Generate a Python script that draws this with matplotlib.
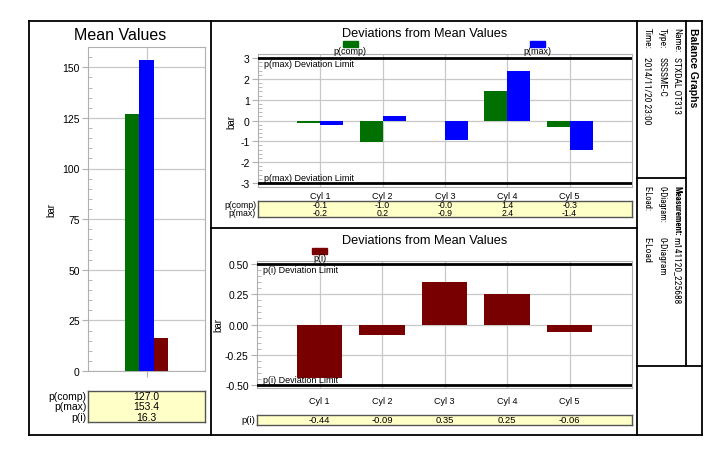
import matplotlib
matplotlib.use('Agg')
import matplotlib.pyplot as plt
from matplotlib.ticker import MultipleLocator, FormatStrFormatter
from matplotlib.patches import Rectangle
from matplotlib.lines import Line2D

plt.rcParams['font.family'] = ['Liberation Sans', 'DejaVu Sans']

# --------- dados ---------
series = ['p(comp)', 'p(max)', 'p(i)']
mean_values = [127.0, 153.4, 16.3]

cylinders = ['Cyl 1', 'Cyl 2', 'Cyl 3', 'Cyl 4', 'Cyl 5']
dev_comp = [-0.1, -1.02, -0.04, 1.44, -0.33]
dev_max = [-0.24, 0.22, -0.92, 2.37, -1.44]
dev_pi = [-0.44, -0.09, 0.35, 0.25, -0.06]
limit_max = 3.0
limit_pi = 0.5

info_labels = ['Name:', 'Type:', 'Time:']
info_values = ['STXDAL OT313', 'SSSSME-C', '2014/11/20 23:00']
meas_labels = ['Measurement:', '0-Diagram:', 'E-Load:']
meas_values = ['m141120_225688', '0-Diagram', 'E-Load']

GREEN = '#007000'
BLUE = '#0000FF'
RED = '#780000'
YELLOW = '#FFFFC8'
GRID = '#C8C8C8'
SPINE = '#B0B0B0'
colors = [GREEN, BLUE, RED]
NARROW = ['Roboto Condensed', 'Liberation Sans Narrow', 'Liberation Sans', 'DejaVu Sans']

W, H = 720, 460


def box(x0, y0, x1, y1):
    return [x0 / W, 1 - y1 / H, (x1 - x0) / W, (y1 - y0) / H]


def fx(x):
    return x / W


def fy(y):
    return 1 - y / H


def line(x0, y0, x1, y1, lw=1.3):
    fig.add_artist(Line2D([fx(x0), fx(x1)], [fy(y0), fy(y1)], color='black', lw=lw))


def style_axes(ax, major, minor, fmt):
    for s in ax.spines.values():
        s.set_color(SPINE)
    ax.set_facecolor('white')
    ax.yaxis.set_major_locator(MultipleLocator(major))
    ax.yaxis.set_minor_locator(MultipleLocator(minor))
    ax.yaxis.set_major_formatter(FormatStrFormatter(fmt))
    ax.tick_params(axis='y', which='major', length=4, color=SPINE, labelsize=7.5, pad=2)
    ax.tick_params(axis='y', which='minor', length=3, direction='in', color=SPINE)
    ax.grid(True, which='major', color=GRID, lw=0.9)
    ax.set_axisbelow(True)
    ax.set_ylabel('bar', fontsize=7)


def table_axes(rect, xlim):
    t = fig.add_axes(rect)
    t.set_facecolor(YELLOW)
    t.set_xlim(*xlim)
    t.set_ylim(0, 1)
    t.set_xticks([])
    t.set_yticks([])
    for s in t.spines.values():
        s.set_color('#555555')
        s.set_linewidth(1.0)
    return t


fig = plt.figure(figsize=(7.2, 4.6), dpi=100)

# --------- painel esquerdo: valores médios ---------
ax = fig.add_axes(box(88, 48, 205, 372))
width = 0.12
for i, (v, c) in enumerate(zip(mean_values, colors)):
    ax.bar((i - 1) * width, v, width=width, color=c, zorder=3)
ax.set_xlim(-0.5, 0.5)
ax.set_ylim(0, 160)
ax.set_xticks([0])
ax.set_xticklabels([])
ax.tick_params(axis='x', length=4, color=SPINE)
style_axes(ax, 25, 5, '%d')
ax.yaxis.labelpad = 4
fig.text(fx(120), fy(35), 'Mean Values', ha='center', va='center', fontsize=11.5)

t = table_axes(box(88, 392, 205, 423), (0, 1))
for k, (name, v) in enumerate(zip(series, mean_values)):
    yy = 1 - (k + 0.5) / 3
    t.text(0.5, yy, f'{v:.1f}', ha='center', va='center', fontsize=7.5)
    t.text(-0.015, yy, name, ha='right', va='center', fontsize=7.5)

# --------- painel do meio (topo): p(comp) e p(max) ---------
x = range(1, len(cylinders) + 1)
ax2 = fig.add_axes(box(258, 55, 632, 188))
bw = 0.37
ax2.bar([i - bw / 2 for i in x], dev_comp, width=bw, color=GREEN, zorder=3)
ax2.bar([i + bw / 2 for i in x], dev_max, width=bw, color=BLUE, zorder=3)
ax2.set_xlim(0, len(cylinders) + 1)
ax2.set_ylim(-3.2, 3.2)
ax2.set_xticks(list(x))
ax2.set_xticklabels(cylinders)
ax2.tick_params(axis='x', length=0, labelsize=6.5, pad=3)
style_axes(ax2, 1, 0.2, '%d')
ax2.yaxis.labelpad = 3
for lim in (limit_max, -limit_max):
    ax2.axhline(lim, color='black', lw=2, zorder=4)
ax2.text(0.1, limit_max - 0.05, 'p(max) Deviation Limit', ha='left', va='top', fontsize=6.5)
ax2.text(0.1, -limit_max + 0.05, 'p(max) Deviation Limit', ha='left', va='bottom', fontsize=6.5)
fig.text(fx(425), fy(34), 'Deviations from Mean Values', ha='center', va='center', fontsize=9.2)

for xc, c, name in [(350, GREEN, series[0]), (537, BLUE, series[1])]:
    fig.add_artist(Rectangle((fx(xc - 7.5), fy(47.5)), 15 / W, 5.5 / H, color=c,
                             transform=fig.transFigure))
    fig.text(fx(xc), fy(52), name, ha='center', va='center', fontsize=6.5)

t2 = table_axes(box(258, 202, 632, 218), (0, len(cylinders) + 1))
for i, vc, vm in zip(x, dev_comp, dev_max):
    t2.text(i, 0.75, f'{vc:.1f}', ha='center', va='center', fontsize=6.3)
    t2.text(i, 0.27, f'{vm:.1f}', ha='center', va='center', fontsize=6.3)
t2.text(-0.03, 0.75, series[0], ha='right', va='center', fontsize=6.3)
t2.text(-0.03, 0.27, series[1], ha='right', va='center', fontsize=6.3)

# --------- painel do meio (baixo): p(i) ---------
ax3 = fig.add_axes(box(257, 262, 632, 389))
ax3.bar(list(x), dev_pi, width=0.73, color=RED, zorder=3)
ax3.set_xlim(0, len(cylinders) + 1)
ax3.set_ylim(-0.525, 0.525)
ax3.set_xticks(list(x))
ax3.set_xticklabels(cylinders)
ax3.tick_params(axis='x', length=0, labelsize=6.5, pad=6)
style_axes(ax3, 0.25, 0.05, '%.2f')
ax3.yaxis.labelpad = 1
for lim in (limit_pi, -limit_pi):
    ax3.axhline(lim, color='black', lw=2, zorder=4)
ax3.text(0.1, limit_pi - 0.005, 'p(i) Deviation Limit', ha='left', va='top', fontsize=6.5)
ax3.text(0.1, -limit_pi + 0.005, 'p(i) Deviation Limit', ha='left', va='bottom', fontsize=6.5)
fig.text(fx(425), fy(241), 'Deviations from Mean Values', ha='center', va='center', fontsize=9.2)

fig.add_artist(Rectangle((fx(312), fy(255)), 15 / W, 6 / H, color=RED,
                         transform=fig.transFigure))
fig.text(fx(320), fy(259), series[2], ha='center', va='center', fontsize=6.5)

t3 = table_axes(box(257, 416, 632, 426), (0, len(cylinders) + 1))
for i, v in zip(x, dev_pi):
    t3.text(i, 0.5, f'{v:.2f}', ha='center', va='center', fontsize=6.8)
t3.text(-0.03, 0.5, series[2], ha='right', va='center', fontsize=6.8)

# --------- painel direito: informações ---------
fig.text(fx(693), fy(28), 'Balance Graphs', rotation=-90, ha='center', va='top',
         fontsize=7.5, fontweight='bold')
for xc, lab, val in zip([677, 662, 647], info_labels, info_values):
    fig.text(fx(xc), fy(28), lab, rotation=-90, ha='center', va='top', fontsize=6.8,
             family=NARROW)
    fig.text(fx(xc), fy(57), val, rotation=-90, ha='center', va='top', fontsize=6.8,
             family=NARROW)
for k, (xc, lab, val) in enumerate(zip([677, 662, 647], meas_labels, meas_values)):
    fig.text(fx(xc), fy(186), lab, rotation=-90, ha='center', va='top', fontsize=6.2,
             family=NARROW, fontweight='bold' if k == 0 else 'normal')
    fig.text(fx(xc), fy(237), val, rotation=-90, ha='center', va='top', fontsize=6.8,
             family=NARROW)

# --------- molduras ---------
line(29, 22, 702, 22)
line(29, 436, 702, 436)
line(29, 22, 29, 436)
line(702, 22, 702, 436)
line(211, 22, 211, 436)
line(637, 22, 637, 436)
line(211, 229, 637, 229)
line(686, 22, 686, 367)
line(637, 179, 686, 179)
line(637, 367, 702, 367)

fig.savefig('out.png', dpi=100, facecolor='white')
